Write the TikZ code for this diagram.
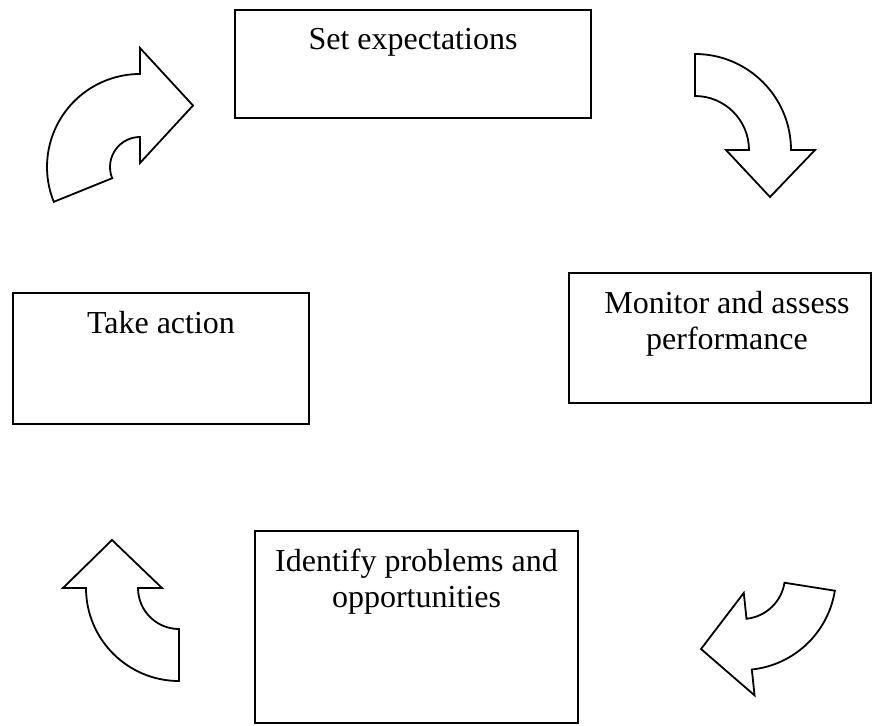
\documentclass[tikz,border=0pt]{standalone}
\usepackage{fontspec}
\setmainfont{Liberation Serif}
\usetikzlibrary{calc}

\begin{document}
\begin{tikzpicture}
[
    x=0.5pt, y=-0.5pt,
    box/.style={draw, line width=1pt, anchor=north west, inner sep=0pt},
    boxtext/.style={anchor=north, align=center, inner sep=0pt, font=\fontsize{16}{18}\selectfont},
    turn/.style={draw, line width=0.9pt, fill=white}
]
    \useasboundingbox (0,0) rectangle (872,726);

    % the four boxes
    \node [box, minimum width=178pt, minimum height=54pt] (set) at (234,9) {};
    \node [box, minimum width=151pt, minimum height=65pt] (mon) at (568,272) {};
    \node [box, minimum width=161.5pt, minimum height=96pt] (ident) at (254,530) {};
    \node [box, minimum width=148pt, minimum height=65.5pt] (take) at (12,292) {};

    \node [boxtext] (settext) at ($(set.north)+(0,19)$) {Set expectations};
    \node [boxtext] (montext) at ($(mon.north)+(7,19)$) {Monitor and assess\\performance};
    \node [boxtext] (identtext) at ($(ident.north)+(0,19)$) {Identify problems and\\opportunities};
    \node [boxtext] (taketext) at ($(take.north)+(0,19)$) {Take action};

    % curved arrows between the boxes
    \coordinate (c1) at (695,150);
    \draw [turn] ($(c1)+(270:96)$) arc [start angle=270, end angle=360, radius=96]
        -- ($(c1)+(0:120)$) -- ($(c1)+(75,47)$) -- ($(c1)+(0:31)$) -- ($(c1)+(0:54)$)
        arc [start angle=360, end angle=270, radius=54] -- cycle;

    \coordinate (c3) at (742,576);
    \draw [turn] ($(c3)+(9:94)$) arc [start angle=9, end angle=84, radius=94]
        -- ($(c3)+(84:120)$) -- ($(c3)+(-41,73)$) -- ($(c3)+(84:17)$) -- ($(c3)+(84:43)$)
        arc [start angle=84, end angle=9, radius=43] -- cycle;

    \coordinate (c4) at (179,588);
    \draw [turn] ($(c4)+(180:93)$) arc [start angle=180, end angle=90, radius=93]
        -- ($(c4)+(90:41)$) arc [start angle=90, end angle=180, radius=41]
        -- ($(c4)+(180:17)$) -- ($(c4)+(-67,-48)$) -- ($(c4)+(180:116)$) -- cycle;

    \coordinate (c2) at (140,167);
    \draw [turn] ($(c2)+(270:93)$) arc [start angle=270, end angle=158, radius=93]
        -- ($(c2)+(158:30)$) arc [start angle=158, end angle=270, radius=30]
        -- ($(c2)+(270:4)$) -- ($(c2)+(53,-61.5)$) -- ($(c2)+(270:119)$) -- cycle;
\end{tikzpicture}
\end{document}
